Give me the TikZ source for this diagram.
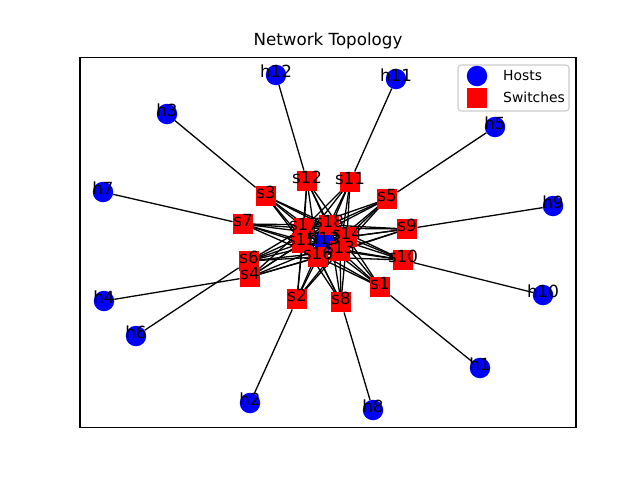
\documentclass[tikz,border=0pt]{standalone}
\usepackage{fontspec}
\setmainfont{DejaVu Sans}
\usepackage{tikz}
\usetikzlibrary{backgrounds}
\tikzset{
  host/.style={shape=circle,fill=blue,minimum size=20.5pt,inner sep=0pt},
  switch/.style={shape=rectangle,fill=red,minimum size=20.5pt,inner sep=0pt},
  link/.style={draw=black,line width=1.3pt},
  lbl/.style={inner sep=0pt,text height=0.76em,text depth=0.24em,font=\fontsize{16.7}{20}\selectfont},
  legtext/.style={anchor=west,inner sep=0pt,font=\fontsize{13.9}{16}\selectfont}
}

\begin{document}
\begin{tikzpicture}[x=1pt,y=-1pt]
        \useasboundingbox (0,0) rectangle (640,480);
        \draw[line width=1.1pt] (80,57.6) rectangle (576,427.2);
        \node[lbl] (title) at (328,43){Network Topology};
        % hosts
        \node[host] (h1) at (480,368){};
        \node[host] (h2) at (250,403){};
        \node[host] (h3) at (167,114){};
        \node[host] (h4) at (104,301){};
        \node[host] (h5) at (495,127){};
        \node[host] (h6) at (136,336){};
        \node[host] (h7) at (103,192){};
        \node[host] (h8) at (373,410){};
        \node[host] (h9) at (553,206){};
        \node[host] (h10) at (543,295){};
        \node[host] (h11) at (396,79){};
        \node[host] (h12) at (276,75){};
        \node[host] (h13) at (324,242){};
        % switches
        \node[switch] (s1) at (380,287){};
        \node[switch] (s2) at (297,299){};
        \node[switch] (s3) at (266,196){};
        \node[switch] (s4) at (250,277){};
        \node[switch] (s5) at (387,199){};
        \node[switch] (s6) at (249,261){};
        \node[switch] (s7) at (243,224){};
        \node[switch] (s8) at (341,302){};
        \node[switch] (s9) at (407,229){};
        \node[switch] (s10) at (403,260){};
        \node[switch] (s11) at (350,182){};
        \node[switch] (s12) at (307,181){};
        \node[switch] (s13) at (340,251){};
        \node[switch] (s14) at (347,237){};
        \node[switch] (s15) at (302,243){};
        \node[switch] (s16) at (318,257){};
        \node[switch] (s17) at (304,228){};
        \node[switch] (s18) at (329,225){};
        \begin{pgfonlayer}{background}
        \foreach \i in {1,...,12}
          \path [link](h\i) edge (s\i);
        \foreach \i in {1,...,12}
          \foreach \j in {13,...,18}
            \path [link](s\i.center) edge (s\j.center);
        \end{pgfonlayer}
        \foreach \n in {h1,h2,h3,h4,h5,h6,h7,h8,h9,h10,h11,h12,h13,s1,s2,s3,s4,s5,s6,s7,s8,s9,s10,s11,s12,s13,s14,s15,s16,s17,s18}
          \node[lbl] (t\n) at (\n) {\n};
        % legend
        \draw[draw=black!20,fill=white,line width=1.1pt,rounded corners=3pt] (458,65) rectangle (569,111);
        \node[host] (lhost) at (477,76){};
        \node[switch] (lswitch) at (477,98){};
        \node[legtext] (lhosttext) at (503,76){Hosts};
        \node[legtext] (lswitchtext) at (503,97){Switches};
    \end{tikzpicture}
\end{document}
